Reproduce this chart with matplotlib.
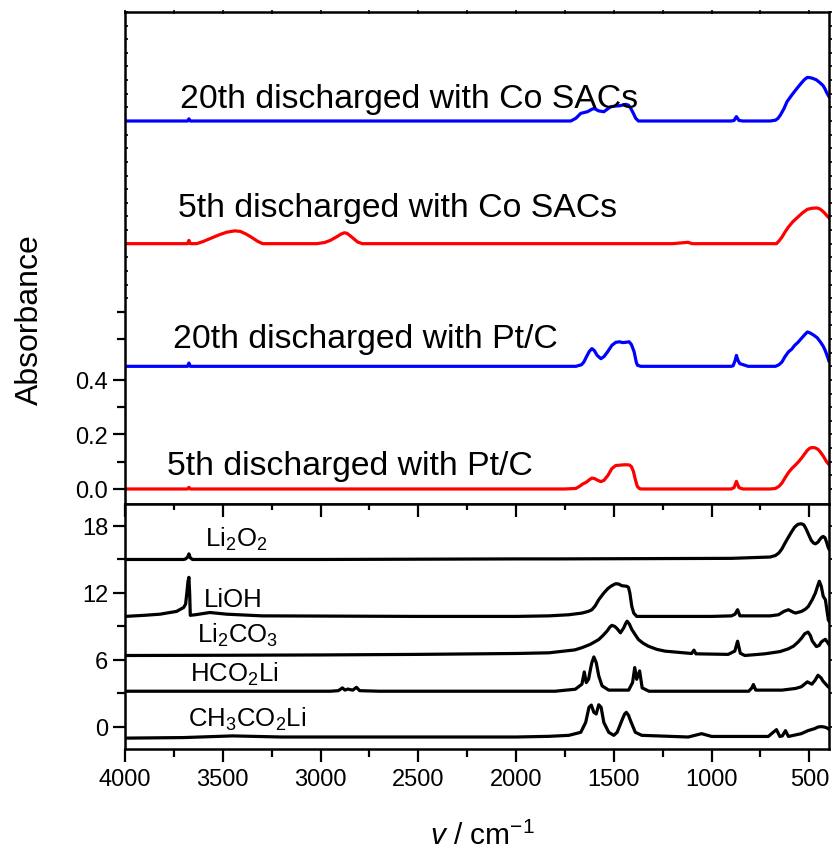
import numpy as np
import matplotlib
matplotlib.use("Agg")
import matplotlib.pyplot as plt

plt.rcParams['font.family'] = ['Liberation Sans', 'DejaVu Sans']
plt.rcParams['mathtext.fontset'] = 'custom'
plt.rcParams['mathtext.rm'] = 'Liberation Sans'
plt.rcParams['mathtext.it'] = 'Liberation Sans:italic'

# ---------------- discharged cathodes (top panel) ----------------
pt5_wn = [4000, 3700, 3680, 3673, 3666, 3000, 2000, 1750, 1694, 1675, 1660, 1640, 1625, 1612, 1598,
          1580, 1566, 1550, 1530, 1510, 1490, 1460, 1440, 1420, 1410, 1400, 1390, 1380, 1370, 1360,
          1000, 900, 885, 873, 860, 840, 700, 673, 655, 640, 625, 607, 590, 575, 558, 540, 525,
          510, 497, 485, 470, 455, 444, 430, 420, 412, 400]
pt5_ab = [0, 0, 0, 0.006, 0, 0, 0, 0, 0.002, 0.01, 0.018, 0.025, 0.034, 0.04, 0.038,
          0.031, 0.027, 0.032, 0.05, 0.075, 0.086, 0.088, 0.089, 0.088, 0.082, 0.065, 0.035, 0.01, 0.002, 0,
          0, 0, 0.005, 0.028, 0.005, 0, 0, 0.002, 0.01, 0.022, 0.04, 0.06, 0.075, 0.085, 0.098, 0.113, 0.128,
          0.142, 0.15, 0.152, 0.151, 0.145, 0.136, 0.122, 0.11, 0.1, 0.09]

pt20_wn = [4000, 3700, 3680, 3673, 3666, 3000, 2000, 1750, 1694, 1665, 1653, 1640, 1625, 1612, 1600,
           1585, 1566, 1550, 1532, 1510, 1490, 1470, 1456, 1440, 1422, 1410, 1396, 1385, 1379, 1362,
           1000, 900, 890, 880, 873, 865, 856, 813, 700, 673, 655, 640, 625, 607, 590, 575, 558,
           541, 525, 510, 495, 477, 460, 444, 430, 420, 412, 400]
pt20_ab = [0, 0, 0, 0.012, 0, 0, 0, 0, 0, 0.006, 0.016, 0.035, 0.055, 0.065, 0.058,
           0.04, 0.028, 0.036, 0.053, 0.077, 0.088, 0.09, 0.087, 0.088, 0.09, 0.08, 0.053, 0.015, 0.004, 0,
           0, 0, 0.002, 0.02, 0.04, 0.022, 0.01, 0, 0, 0, 0.006, 0.016, 0.035, 0.053, 0.063, 0.077, 0.088,
           0.102, 0.115, 0.126, 0.122, 0.114, 0.105, 0.09, 0.075, 0.06, 0.045, 0.02]

co5_wn = [4000, 3700, 3680, 3673, 3666, 3633, 3600, 3560, 3520, 3480, 3439, 3410, 3380, 3350, 3320,
          3296, 3020, 2980, 2950, 2920, 2895, 2878, 2865, 2850, 2830, 2810, 2786, 2000, 1200, 1120,
          1100, 800, 700, 668, 655, 640, 625, 607, 585, 558, 535, 510, 485, 461, 448, 436, 424,
          412, 400]
co5_ab = [0, 0, 0, 0.012, 0, 0, 0.008, 0.02, 0.032, 0.042, 0.047, 0.045, 0.035, 0.022, 0.008,
          0, 0, 0.004, 0.012, 0.024, 0.035, 0.04, 0.038, 0.03, 0.018, 0.006, 0, 0, 0, 0.005,
          0, 0, 0, 0, 0.01, 0.024, 0.042, 0.061, 0.08, 0.098, 0.113, 0.126, 0.13, 0.131, 0.128, 0.122, 0.114,
          0.104, 0.095]

co20_wn = [4000, 3700, 3680, 3673, 3666, 3000, 2000, 1720, 1694, 1669, 1635, 1615, 1602, 1590, 1577,
           1551, 1530, 1517, 1490, 1470, 1450, 1439, 1425, 1413, 1400, 1388, 1374, 1000, 900, 885,
           873, 860, 840, 700, 673, 660, 648, 630, 614, 590, 563, 540, 525, 510, 497, 485, 464, 445,
           430, 420, 412, 400]
co20_ab = [0, 0, 0, 0.008, 0, 0, 0, 0, 0.01, 0.028, 0.034, 0.042, 0.046, 0.042, 0.037,
           0.034, 0.045, 0.052, 0.055, 0.056, 0.059, 0.061, 0.058, 0.046, 0.028, 0.01, 0, 0, 0, 0.002,
           0.016, 0.002, 0, 0, 0.003, 0.01, 0.022, 0.045, 0.071, 0.095, 0.12, 0.14, 0.152, 0.16, 0.159,
           0.157, 0.151, 0.14, 0.13, 0.118, 0.105, 0.09]

top_series = [
    ("5th discharged with Pt/C", pt5_wn, pt5_ab, 0.0, "#ff0000"),
    ("20th discharged with Pt/C", pt20_wn, pt20_ab, 0.45, "#0000ff"),
    ("5th discharged with Co SACs", co5_wn, co5_ab, 0.90, "#ff0000"),
    ("20th discharged with Co SACs", co20_wn, co20_ab, 1.35, "#0000ff"),
]
top_label_pos = [(3786, 0.055), (3755, 0.521), (3730, 1.002), (3719, 1.402)]

# ---------------- reference compounds (bottom panel) ----------------
li2o2_wn = [4000, 3700, 3690, 3680, 3673, 3666, 3655, 3000, 2000, 1800, 900, 700, 673, 655, 640,
            625, 607, 590, 575, 558, 541, 528, 517, 503, 490, 479, 469, 456, 444, 436, 429, 420,
            412, 404, 400]
li2o2_ab = [0, 0, 0.05, 0.2, 0.5, 0.15, 0, 0, 0.05, 0.05, 0.1, 0.22, 0.36, 0.6, 0.96,
            1.45, 2.0, 2.5, 2.9, 3.15, 3.2, 3.1, 2.75, 2.2, 1.7, 1.48, 1.4, 1.55, 1.85, 2.0, 2.06, 1.95,
            1.56, 1.1, 0.95]

lioh_wn = [4000, 3900, 3821, 3736, 3700, 3690, 3683, 3678, 3673, 3669, 3666, 3640, 3566,
           3480, 3300, 2500, 2000, 1832, 1730, 1663, 1630, 1612, 1595, 1577, 1551, 1530, 1515,
           1500, 1490, 1475, 1459, 1434, 1425, 1418, 1408, 1398, 1383, 1000, 898, 880, 867, 855,
           700, 658, 630, 607, 585, 571, 540, 520, 505, 485, 469, 458, 449, 439, 429, 418, 403, 400]
lioh_ab = [0, 0.1, 0.2, 0.45, 0.8, 1.1, 2.2, 3.1, 3.5, 2.0, 0.1, 0.15, 0.35,
           0.2, 0.05, 0, 0, 0.05, 0.15, 0.3, 0.45, 0.6, 0.95, 1.5, 2.1, 2.5, 2.7,
           2.85, 2.93, 2.9, 2.75, 2.7, 2.6, 2.1, 0.9, 0.3, 0, 0, 0.05, 0.2, 0.6, 0.05,
           0.05, 0.15, 0.45, 0.6, 0.4, 0.3, 0.45, 0.65, 0.9, 1.5, 2.1, 2.7, 3.15, 2.7, 1.8, 1.5, -0.3, -0.4]

li2co3_wn = [4000, 3500, 3000, 2500, 2000, 1832, 1700, 1663, 1620, 1577, 1555, 1534, 1520, 1510,
             1495, 1483, 1466, 1449, 1440, 1432, 1420, 1408, 1390, 1374, 1350, 1323, 1280, 1238,
             1102, 1090, 1080, 915, 881, 867, 853, 830, 728, 650, 607, 580, 558, 540, 524, 507,
             495, 485, 464, 450, 439, 428, 418, 404, 400]
li2co3_ab = [0, 0.02, 0.05, 0.1, 0.18, 0.24, 0.5, 0.7, 1.0, 1.43, 1.8, 2.2, 2.55, 2.7,
             2.6, 2.4, 2.03, 2.48, 2.85, 3.07, 2.8, 2.33, 1.85, 1.43, 1.1, 0.83, 0.55, 0.39,
             0.18, 0.48, 0.15, 0.1, 0.4, 1.28, 0.2, 0, 0.15, 0.35, 0.6, 0.85, 1.2, 1.55, 1.94, 2.1,
             1.8, 1.3, 0.8, 0.9, 1.2, 1.35, 1.45, 1.1, 1.0]

hco2li_wn = [4000, 2950, 2910, 2900, 2888, 2875, 2860, 2850, 2835, 2816, 2800, 2700, 1800,
             1697, 1663, 1651, 1641, 1629, 1618, 1612, 1602, 1590, 1577, 1560, 1526, 1424, 1404,
             1393, 1383, 1368, 1355, 1320, 810, 794, 786, 774, 640, 570, 541, 510, 487, 470, 456,
             440, 431, 404, 400]
hco2li_ab = [0, 0, 0.05, 0.15, 0.3, 0.1, 0.2, 0.15, 0.1, 0.35, 0.05, 0, 0,
             0.18, 0.63, 1.73, 0.78, 1.07, 2.1, 2.57, 3.07, 2.57, 1.37, 0.48, 0.1, 0.1, 0.78,
             2.12, 1.07, 1.82, 0.3, 0, 0, 0.3, 0.6, 0.1, 0.1, 0.25, 0.4, 0.84, 0.63, 1.0, 1.43,
             1.2, 0.93, 0.4, 0.35]

ch3co2li_wn = [4000, 3700, 3450, 3200, 2000, 1832, 1730, 1669, 1644, 1627, 1615, 1602, 1590,
               1577, 1565, 1551, 1526, 1500, 1483, 1456, 1445, 1436, 1425, 1415, 1390, 1357, 1119,
               1051, 1000, 710, 685, 668, 651, 638, 622, 607, 541, 507, 473, 455, 439, 425, 413,
               404, 400]
ch3co2li_ab = [-0.1, -0.05, 0.1, 0, 0, 0.06, 0.15, 0.42, 1.3, 2.66, 2.86, 2.21, 2.06,
               2.89, 2.66, 1.3, 0.42, 0.15, 0.42, 1.6, 2.05, 2.21, 1.95, 1.48, 0.42, 0.15, 0,
               0.3, 0.05, 0.05, 0.42, 0.66, 0.05, 0.1, 0.57, 0.05, 0.3, 0.57, 0.75, 0.9, 0.93, 0.9, 0.84,
               0.75, 0.7]

bottom_series = [
    (r"Li$_2$O$_2$", li2o2_wn, li2o2_ab, 15.0),
    ("LiOH", lioh_wn, lioh_ab, 9.9),
    (r"Li$_2$CO$_3$", li2co3_wn, li2co3_ab, 6.4),
    (r"HCO$_2$Li", hco2li_wn, hco2li_ab, 3.2),
    (r"CH$_3$CO$_2$Li", ch3co2li_wn, ch3co2li_ab, -0.9),
]
bottom_label_pos = [(3592, 16.2), (3597, 10.8), (3633, 7.6), (3668, 4.1), (3678, 0.1)]

x_major = [4000, 3500, 3000, 2500, 2000, 1500, 1000, 500]
x_minor = [3750, 3250, 2750, 2250, 1750, 1250, 750]

# ---------------- figure ----------------
fig = plt.figure(figsize=(8.36, 8.53), dpi=100)
ax_top = fig.add_axes([0.1495, 0.408, 0.842, 0.5768])
ax_bot = fig.add_axes([0.1495, 0.1208, 0.842, 0.2872], sharex=ax_top)

lw = 2.3
for (label, wn, ab, off, col), (tx, ty) in zip(top_series, top_label_pos):
    ax_top.plot(wn, np.asarray(ab) + off, color=col, lw=lw, solid_joinstyle='round')
    ax_top.text(tx, ty, label, fontsize=24.3, ha='left', va='baseline')

for (label, wn, ab, off), (tx, ty) in zip(bottom_series, bottom_label_pos):
    ax_bot.plot(wn, np.asarray(ab) + off, color='black', lw=lw, solid_joinstyle='round')
    ax_bot.text(tx, ty, label, fontsize=18.5, ha='left', va='baseline')

ax_top.set_xlim(4000, 400)
ax_top.set_ylim(-0.055, 1.75)
ax_bot.set_ylim(-1.97, 19.97)

for ax in (ax_top, ax_bot):
    for s in ax.spines.values():
        s.set_linewidth(1.8)

# top panel ticks
ax_top.set_yticks([0.0, 0.2, 0.4])
ax_top.set_yticklabels(["0.0", "0.2", "0.4"])
ax_top.set_yticks([0.1, 0.3, 0.55, 0.65], minor=True)
ax_top.tick_params(axis='y', which='major', direction='out', length=9, width=1.6,
                   labelsize=17, pad=3, right=False)
ax_top.tick_params(axis='y', which='minor', direction='out', length=5.5, width=1.6, right=False)
ax_top.tick_params(axis='x', which='both', bottom=False, labelbottom=False,
                   top=True, direction='inout', length=3, width=1.2)
ax_top.set_xticks(x_major)
ax_top.set_xticks(x_minor, minor=True)

fine_ticks = np.round(np.arange(0.0, 1.751, 0.05), 2)
sec_r = ax_top.secondary_yaxis('right')
sec_r.set_yticks(fine_ticks)
sec_r.tick_params(direction='out', length=2.5, width=1.2, labelright=False)
sec_r.spines['right'].set_visible(False)
sec_l = ax_top.secondary_yaxis('left')
sec_l.set_yticks(fine_ticks[fine_ticks > 0.66])
sec_l.tick_params(direction='in', length=2, width=1.2, labelleft=False)
sec_l.spines['left'].set_visible(False)

# bottom panel ticks
ax_bot.set_xticks(x_major)
ax_bot.set_xticklabels([str(v) for v in x_major])
ax_bot.set_xticks(x_minor, minor=True)
ax_bot.tick_params(axis='x', which='major', direction='out', length=9, width=1.6,
                   labelsize=17, pad=5)
ax_bot.tick_params(axis='x', which='minor', direction='out', length=5.5, width=1.6)
ax_bot.set_yticks([0, 6, 12, 18])
ax_bot.set_yticks([3, 9, 15], minor=True)
ax_bot.tick_params(axis='y', which='major', direction='out', length=9, width=1.6,
                   labelsize=17, pad=3)
ax_bot.tick_params(axis='y', which='minor', direction='out', length=5.5, width=1.6)

sec_t = ax_bot.secondary_xaxis('top')
sec_t.set_xticks(x_major)
sec_t.set_xticks(x_minor, minor=True)
sec_t.tick_params(which='major', direction='in', length=9, width=1.6, labeltop=False)
sec_t.tick_params(which='minor', direction='in', length=4, width=1.6)
sec_t.spines['top'].set_visible(False)
sec_rb = ax_bot.secondary_yaxis('right')
sec_rb.set_yticks([0, 3, 6, 9, 12, 15, 18])
sec_rb.tick_params(direction='out', length=2.5, width=1.2, labelright=False)
sec_rb.spines['right'].set_visible(False)

fig.text(0.036, 0.625, "Absorbance", rotation=90, fontsize=23, ha='center', va='center')
fig.text(0.577, 1 - 845 / 853, r"$\mathit{v}$ / cm$^{-1}$", fontsize=21.5, ha='center', va='baseline')

fig.savefig("out.png", dpi=100)
